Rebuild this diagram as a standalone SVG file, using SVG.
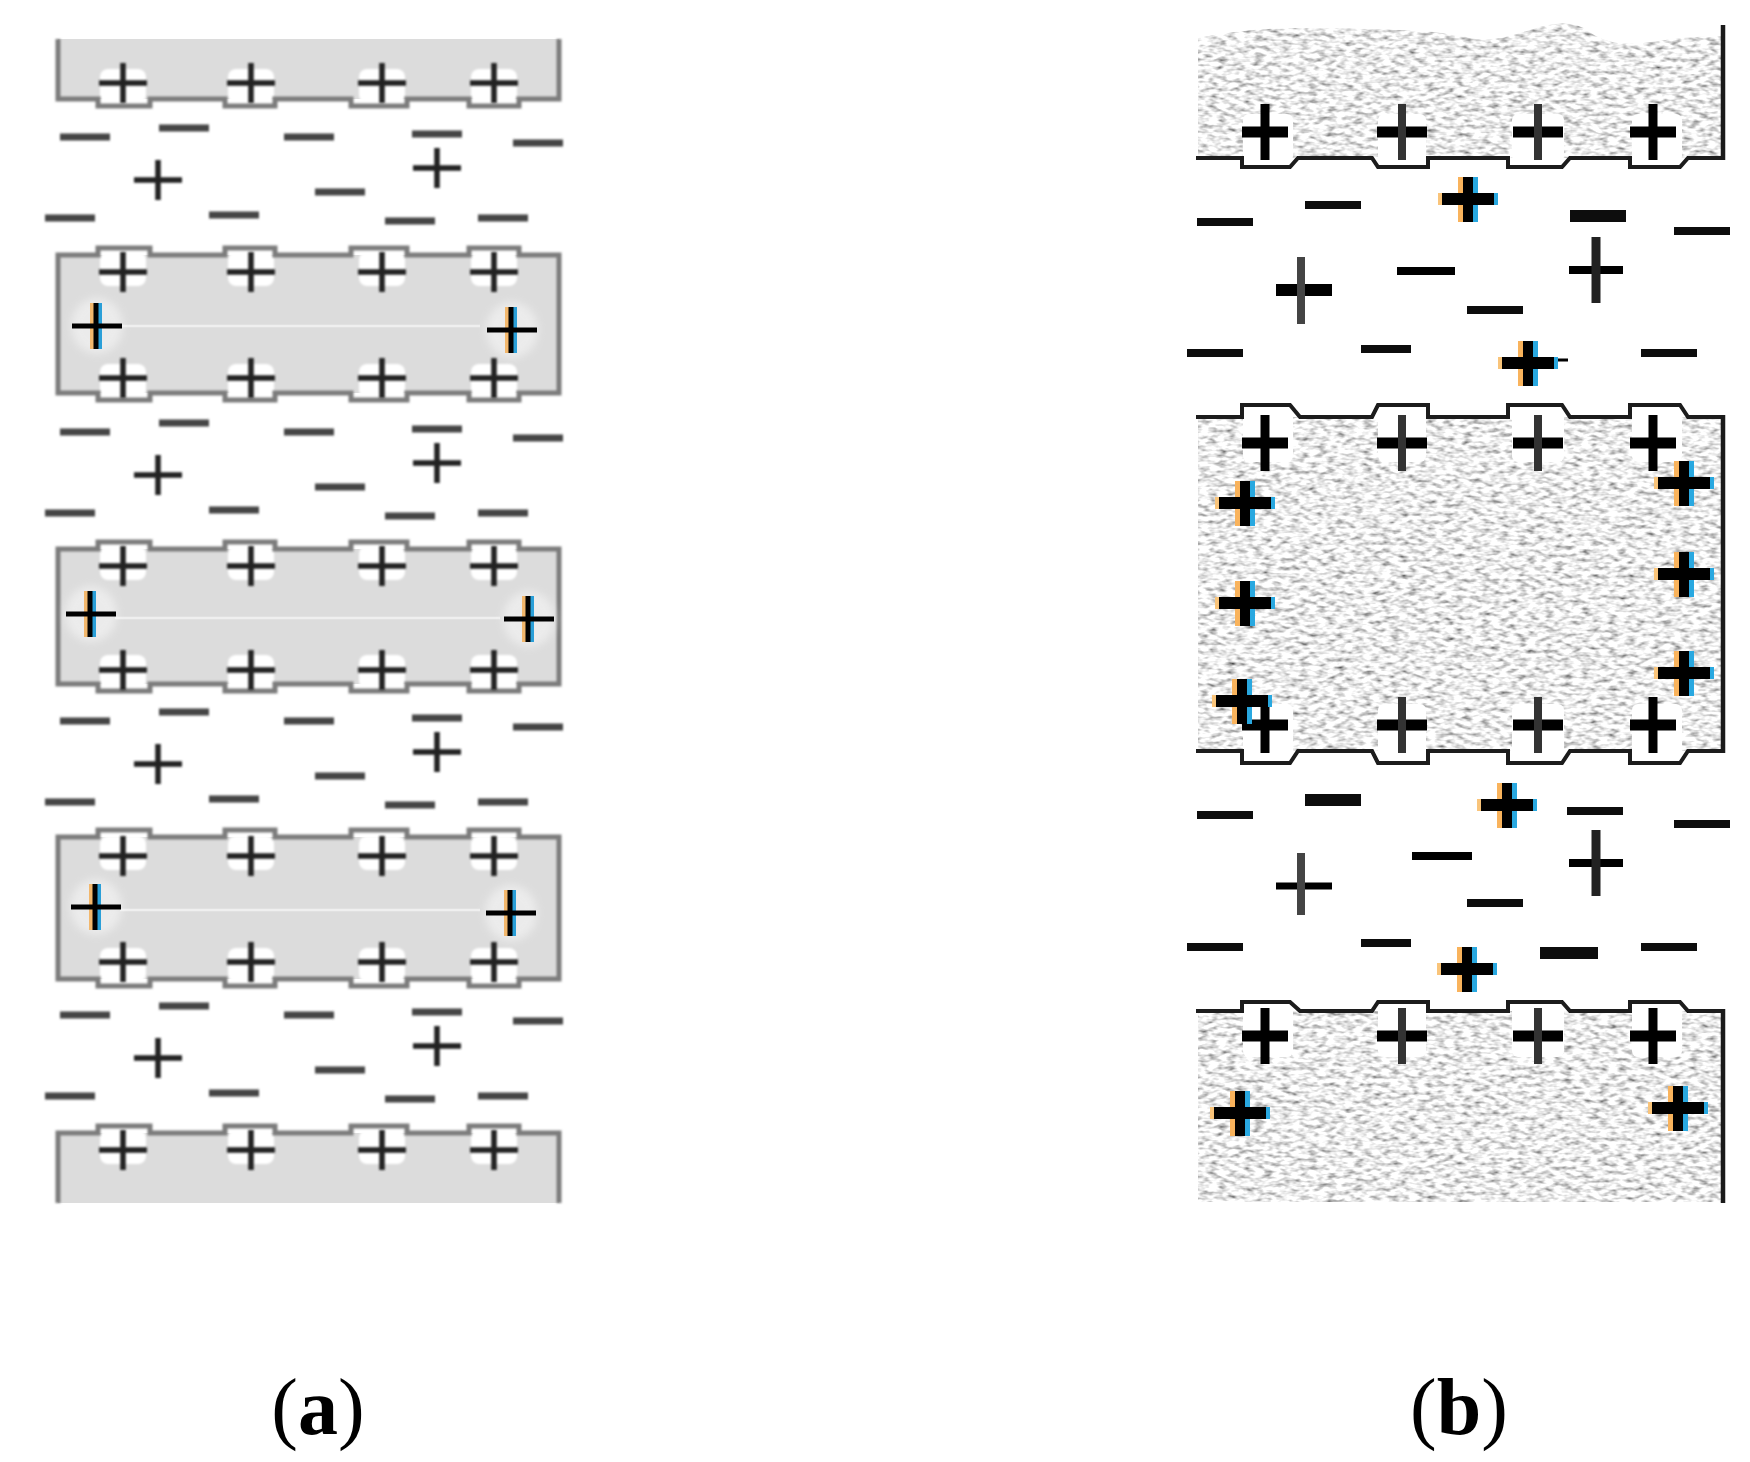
<svg xmlns="http://www.w3.org/2000/svg" width="1750" height="1462" viewBox="0 0 1750 1462">
<style>
.fa{fill:#dcdcdc}
.oa{fill:none;stroke:#7c7c7c;stroke-width:5;filter:url(#b1)}
.ob{fill:none;stroke:#1a1a1a;stroke-width:4;filter:url(#b0)}
.wl{fill:none;stroke:#1a1a1a;stroke-width:4.5}
.tx{fill:#d8d8d8;filter:url(#noise)}
.ha{fill:#fff;filter:url(#b1)}
.hb{fill:#fff}
.hc{fill:#fff;opacity:.45;filter:url(#b2)}
.band{stroke:#efefef;stroke-width:2.5;fill:none}
.pa{fill:none;stroke:#222;stroke-width:5.5;filter:url(#b1)}
.ma{fill:none;stroke:#444;stroke-width:7;filter:url(#b1)}
.k{fill:none;stroke:#000}
.m{fill:none;stroke:#0a0a0a;filter:url(#b0)}
.t{font-family:"Liberation Serif","Times New Roman",serif;font-size:80px;fill:#000}
.bd{font-weight:bold}
</style>
<defs>
<filter id="b0" filterUnits="userSpaceOnUse" x="-200" y="-200" width="2200" height="2000"><feGaussianBlur stdDeviation=".6"/></filter>
<filter id="b1" filterUnits="userSpaceOnUse" x="-200" y="-200" width="2200" height="2000"><feGaussianBlur stdDeviation="1"/></filter>
<filter id="b2" filterUnits="userSpaceOnUse" x="-200" y="-200" width="2200" height="2000"><feGaussianBlur stdDeviation="4"/></filter>
<filter id="noise" filterUnits="userSpaceOnUse" x="1190" y="20" width="540" height="1190">
<feTurbulence type="fractalNoise" baseFrequency=".11 .24" numOctaves="2" seed="7" result="n"/>
<feColorMatrix in="n" type="matrix" values="1.8 0 0 0 -.06  1.8 0 0 0 -.06  1.8 0 0 0 -.06  0 0 0 0 1" result="g"/>
<feComposite in="g" in2="SourceAlpha" operator="in"/>
</filter>
<g id="pl"><path class="pa" d="M-24 0H24M0-20V20"/></g>
<g id="hl"><rect class="ha" x="-23" y="-17" width="46" height="34" rx="8"/></g>
<g id="sa">
<rect x="-7" y="-23" width="4" height="46" fill="#f2b76c"/><rect x="1" y="-23" width="4" height="46" fill="#2a9fd8"/>
<path class="k" d="M-1 -23V23" stroke-width="5"/><path class="k" d="M-25 0H25" stroke-width="5"/>
</g>
<g id="q1"><path class="k" d="M-23 0H23" stroke-width="11"/><path class="k" d="M0-28V28" stroke-width="9"/></g>
<g id="q2"><path class="k" d="M-25 0H25" stroke-width="11"/><path d="M0-28V28" fill="none" stroke="#333" stroke-width="8"/></g>
<g id="cp">
<rect x="-10" y="-22" width="5" height="45" fill="#f9b35c"/><rect x="5" y="-22" width="5" height="45" fill="#29a8e0"/>
<rect x="-30" y="-6" width="4" height="12" fill="#f9c47a"/><rect x="26" y="-6" width="4" height="12" fill="#29a8e0"/>
<path class="k" d="M-26 0H26" stroke-width="12"/><path class="k" d="M0-22V23" stroke-width="10"/>
</g>
<g id="f1"><path class="k" d="M-28 0H28" stroke-width="12"/><path d="M-3 -33V34" fill="none" stroke="#444" stroke-width="8"/></g>
<g id="f2"><path class="k" d="M-27 0H27" stroke-width="8"/><path d="M0-33V33" fill="none" stroke="#222" stroke-width="9"/></g>
<g id="f3"><path class="k" d="M-28 0H28" stroke-width="7"/><path d="M-3 -33V29" fill="none" stroke="#444" stroke-width="8"/></g>
<g id="gap">
<path class="ma" d="M60 137h50M159 128h50M284 137h50M412 134h50M513 143h50M315 192h50M209 215h50M45 218h50M385 221h50M478 218h50"/>
<use href="#pl" x="158" y="180"/><use href="#pl" x="437" y="168"/>
</g>
</defs>
<rect width="1750" height="1462" fill="#fff"/>

<g id="panel-a">
<g id="a-plate-1">
<rect class="fa" x="58" y="39" width="501" height="60"/>
<use href="#hl" x="123" y="86"/><use href="#hl" x="251" y="86"/><use href="#hl" x="382" y="86"/><use href="#hl" x="494" y="86"/>
<path class="oa" d="M58 39V99H98V106H150V99H225V106H275V99H351V106H407V99H469V106H519V99H559V39"/>
<use href="#pl" x="123" y="83"/><use href="#pl" x="251" y="83"/><use href="#pl" x="382" y="83"/><use href="#pl" x="494" y="83"/>
</g>
<g id="a-gap-1"><use href="#gap"/></g>
<g id="a-plate-2">
<rect class="fa" x="58" y="255" width="501" height="138"/>
<path class="band" d="M120 326H480"/>
<use href="#hl" x="123" y="269"/><use href="#hl" x="251" y="269"/><use href="#hl" x="382" y="269"/><use href="#hl" x="494" y="269"/>
<use href="#hl" x="123" y="381"/><use href="#hl" x="251" y="381"/><use href="#hl" x="382" y="381"/><use href="#hl" x="494" y="381"/>
<path class="oa" d="M58 393V255H98V248H150V255H225V248H275V255H351V248H407V255H469V248H519V255H559V393H519V400H469V393H407V400H351V393H275V400H225V393H150V400H98V393Z"/>
<use href="#pl" x="123" y="272"/><use href="#pl" x="251" y="272"/><use href="#pl" x="382" y="272"/><use href="#pl" x="494" y="272"/>
<use href="#pl" x="123" y="378"/><use href="#pl" x="251" y="378"/><use href="#pl" x="382" y="378"/><use href="#pl" x="494" y="378"/>
<ellipse class="hc" cx="97" cy="326" rx="26" ry="28"/><ellipse class="hc" cx="512" cy="330" rx="26" ry="28"/>
<use href="#sa" x="97" y="326"/><use href="#sa" x="512" y="330"/>
</g>
<g id="a-gap-2"><use href="#gap" y="295"/></g>
<g id="a-plate-3">
<rect class="fa" x="58" y="549" width="501" height="135"/>
<path class="band" d="M115 618H500"/>
<use href="#hl" x="123" y="563"/><use href="#hl" x="251" y="563"/><use href="#hl" x="382" y="563"/><use href="#hl" x="494" y="563"/>
<use href="#hl" x="123" y="672"/><use href="#hl" x="251" y="672"/><use href="#hl" x="382" y="672"/><use href="#hl" x="494" y="672"/>
<path class="oa" d="M58 684V549H98V542H150V549H225V542H275V549H351V542H407V549H469V542H519V549H559V684H519V691H469V684H407V691H351V684H275V691H225V684H150V691H98V684Z"/>
<use href="#pl" x="123" y="566"/><use href="#pl" x="251" y="566"/><use href="#pl" x="382" y="566"/><use href="#pl" x="494" y="566"/>
<use href="#pl" x="123" y="670"/><use href="#pl" x="251" y="670"/><use href="#pl" x="382" y="670"/><use href="#pl" x="494" y="670"/>
<ellipse class="hc" cx="91" cy="614" rx="26" ry="28"/><ellipse class="hc" cx="529" cy="619" rx="26" ry="28"/>
<use href="#sa" x="91" y="614"/><use href="#sa" x="529" y="619"/>
</g>
<g id="a-gap-3"><use href="#gap" y="584"/></g>
<g id="a-plate-4">
<rect class="fa" x="58" y="837" width="501" height="142"/>
<path class="band" d="M120 910H480"/>
<use href="#hl" x="123" y="853"/><use href="#hl" x="251" y="853"/><use href="#hl" x="382" y="853"/><use href="#hl" x="494" y="853"/>
<use href="#hl" x="123" y="965"/><use href="#hl" x="251" y="965"/><use href="#hl" x="382" y="965"/><use href="#hl" x="494" y="965"/>
<path class="oa" d="M58 979V837H98V830H150V837H225V830H275V837H351V830H407V837H469V830H519V837H559V979H519V986H469V979H407V986H351V979H275V986H225V979H150V986H98V979Z"/>
<use href="#pl" x="123" y="856"/><use href="#pl" x="251" y="856"/><use href="#pl" x="382" y="856"/><use href="#pl" x="494" y="856"/>
<use href="#pl" x="123" y="962"/><use href="#pl" x="251" y="962"/><use href="#pl" x="382" y="962"/><use href="#pl" x="494" y="962"/>
<ellipse class="hc" cx="96" cy="907" rx="26" ry="28"/><ellipse class="hc" cx="511" cy="913" rx="26" ry="28"/>
<use href="#sa" x="96" y="907"/><use href="#sa" x="511" y="913"/>
</g>
<g id="a-gap-4"><use href="#gap" y="878"/></g>
<g id="a-plate-5">
<rect class="fa" x="58" y="1133" width="501" height="70"/>
<use href="#hl" x="123" y="1147"/><use href="#hl" x="251" y="1147"/><use href="#hl" x="382" y="1147"/><use href="#hl" x="494" y="1147"/>
<path class="oa" d="M58 1203V1133H98V1126H150V1133H225V1126H275V1133H351V1126H407V1133H469V1126H519V1133H559V1203"/>
<use href="#pl" x="123" y="1150"/><use href="#pl" x="251" y="1150"/><use href="#pl" x="382" y="1150"/><use href="#pl" x="494" y="1150"/>
</g>
</g>

<g id="panel-b">
<g id="b-plate-1">
<path class="tx" d="M1198 38Q1250 28 1300 28T1400 30T1470 38T1530 30T1590 32T1650 42T1722 36V158H1198Z"/>
<rect class="hb" x="1243" y="114" width="50" height="48" rx="6"/><rect class="hb" x="1378" y="114" width="48" height="48" rx="6"/><rect class="hb" x="1512" y="114" width="52" height="48" rx="6"/><rect class="hb" x="1632" y="114" width="50" height="48" rx="6"/>
<path class="ob" d="M1196 158H1242V167H1290L1298 158H1372L1378 167H1428V158H1508V167H1562L1570 158H1630V167H1680L1688 158H1723"/>
<path class="wl" d="M1723 25V160"/>
<use href="#q1" x="1265" y="132"/><use href="#q2" x="1402" y="132"/><use href="#q2" x="1538" y="132"/><use href="#q1" x="1653" y="132"/>
</g>
<g id="b-gap-1">
<path class="m" stroke-width="8" d="M1197 222h56M1305 205h56M1674 231h56M1467 310h56M1187 353h56M1361 349h50M1641 353h56"/>
<path class="m" stroke-width="12" d="M1570 216h56"/>
<path class="k" stroke-width="8" d="M1397 271h58"/>
<use href="#cp" x="1468" y="199"/><use href="#f1" x="1304" y="290"/><use href="#f2" x="1596" y="270"/>
<path class="k" stroke-width="3" d="M1530 360h38"/>
<use href="#cp" x="1528" y="363"/>
</g>
<g id="b-plate-2">
<path class="tx" d="M1198 417H1723V751H1198Z"/>
<rect class="hb" x="1243" y="410" width="50" height="52" rx="6"/><rect class="hb" x="1378" y="410" width="48" height="52" rx="6"/><rect class="hb" x="1512" y="410" width="52" height="52" rx="6"/><rect class="hb" x="1632" y="410" width="50" height="52" rx="6"/>
<rect class="hb" x="1243" y="704" width="50" height="56" rx="6"/><rect class="hb" x="1378" y="704" width="48" height="56" rx="6"/><rect class="hb" x="1512" y="704" width="52" height="56" rx="6"/><rect class="hb" x="1632" y="704" width="50" height="56" rx="6"/>
<path class="ob" d="M1196 417H1242V405H1290L1300 417H1372L1378 405H1428V417H1508V405H1562L1570 417H1630V405H1680L1688 417H1723"/>
<path class="ob" d="M1196 751H1242V763H1290L1298 751H1372L1378 763H1428V751H1508V763H1562L1570 751H1630V763H1680L1688 751H1723"/>
<path class="wl" d="M1723 415V753"/>
<use href="#q1" x="1265" y="443"/><use href="#q2" x="1402" y="443"/><use href="#q2" x="1538" y="443"/><use href="#q1" x="1653" y="443"/>
<use href="#q1" x="1265" y="725"/><use href="#q2" x="1402" y="725"/><use href="#q2" x="1538" y="725"/><use href="#q1" x="1653" y="725"/>
<use href="#cp" x="1245" y="503"/><use href="#cp" x="1245" y="603"/><use href="#cp" x="1242" y="701"/>
<use href="#cp" x="1684" y="483"/><use href="#cp" x="1684" y="574"/><use href="#cp" x="1684" y="673"/>
</g>
<g id="b-gap-2">
<path class="m" stroke-width="8" d="M1197 815h56M1567 811h56M1674 824h56M1467 903h56M1187 947h56M1361 943h50M1641 947h56"/>
<path class="m" stroke-width="12" d="M1305 800h56M1540 953h58"/>
<path class="k" stroke-width="8" d="M1412 856h60"/>
<use href="#cp" x="1507" y="805"/><use href="#f3" x="1304" y="886"/><use href="#f2" x="1596" y="863"/><use href="#cp" x="1467" y="969"/>
</g>
<g id="b-plate-3">
<path class="tx" d="M1198 1011H1723V1202H1198Z"/>
<rect class="hb" x="1243" y="1005" width="50" height="52" rx="6"/><rect class="hb" x="1378" y="1005" width="48" height="52" rx="6"/><rect class="hb" x="1512" y="1005" width="52" height="52" rx="6"/><rect class="hb" x="1632" y="1005" width="50" height="52" rx="6"/>
<path class="ob" d="M1196 1011H1242V1002H1290L1300 1011H1372L1378 1002H1428V1011H1508V1002H1562L1570 1011H1630V1002H1680L1688 1011H1723"/>
<path class="wl" d="M1723 1009V1203"/>
<use href="#q1" x="1265" y="1036"/><use href="#q2" x="1402" y="1036"/><use href="#q2" x="1538" y="1036"/><use href="#q1" x="1653" y="1036"/>
<use href="#cp" x="1240" y="1113"/><use href="#cp" x="1678" y="1108"/>
</g>
</g>

<g id="labels">
<text class="t" x="318" y="1434" text-anchor="middle">(<tspan class="bd">a</tspan>)</text>
<text class="t" x="1459" y="1434" text-anchor="middle">(<tspan class="bd">b</tspan>)</text>
</g>
</svg>
